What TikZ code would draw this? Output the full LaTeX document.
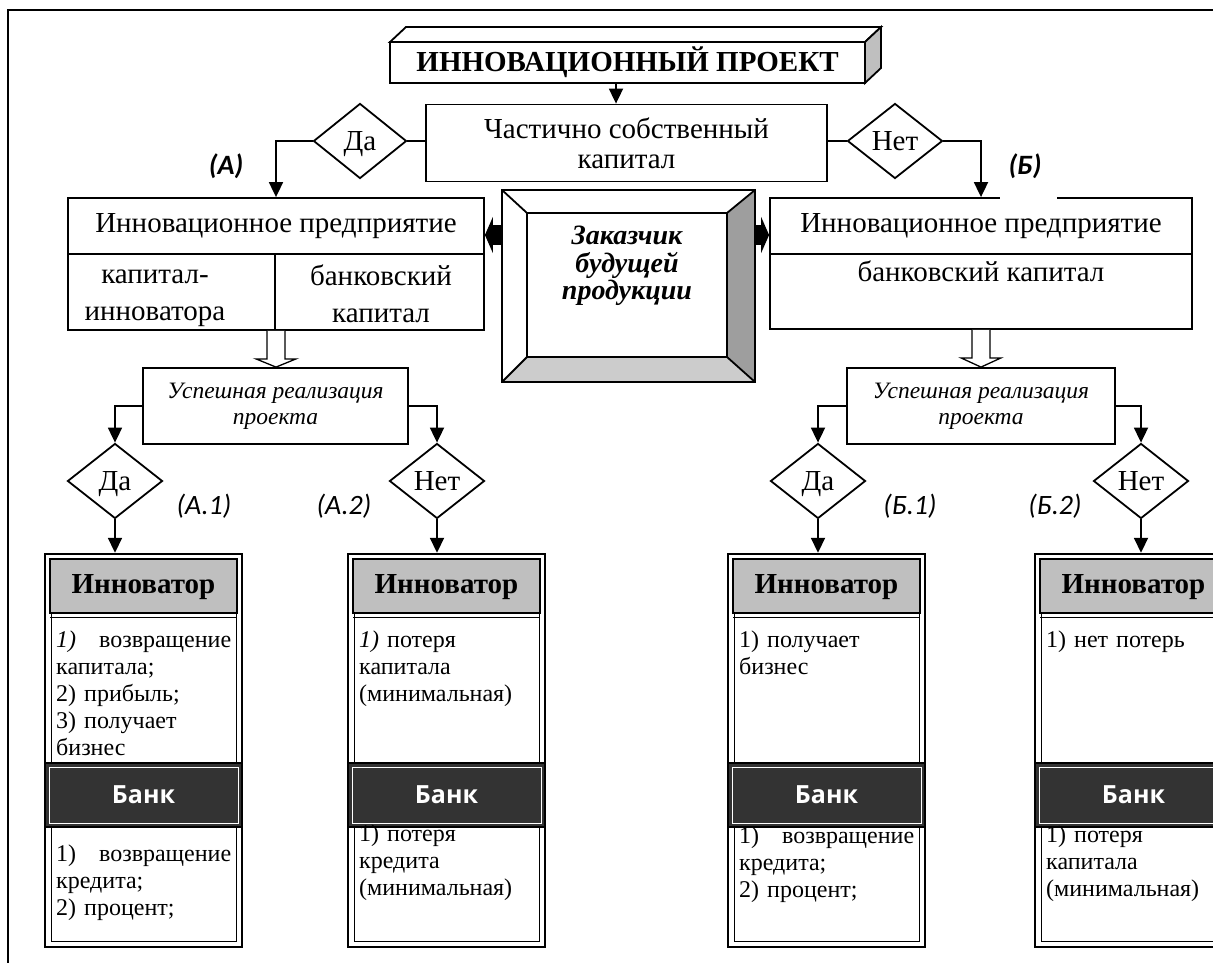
\documentclass[tikz,border=0pt]{standalone}
\usepackage{fontspec}
\setmainfont{Liberation Serif}
\newfontfamily\labf{Carlito}
\newfontfamily\bankf{Open Sans}
\usetikzlibrary{shapes.geometric,arrows.meta,calc}
\definecolor{hdrgray}{gray}{0.75}
\definecolor{bankdark}{gray}{0.2}
\definecolor{sidegray}{gray}{0.62}
\definecolor{botgray}{gray}{0.8}
\newcommand\invcol[6]{%
  \node[draw,line width=2.4pt,minimum width=197pt,minimum height=393pt,inner sep=0pt] (#1) at (#2+98.5,750.5) {};
  \draw[line width=0.9pt] (#2+6,560) rectangle (#2+191,941);
  \draw[line width=2.4pt,fill=hdrgray] (#2+5,559) rectangle (#2+192,613);
  \draw[line width=0.9pt] (#2+5,617) -- (#2+192,617);
  \node[font=\bfseries\fontsize{29}{31}\selectfont] (#1h) at (#2+98.5,587) {Инноватор};
  \draw[line width=2.4pt,fill=bankdark] (#2,763) rectangle (#2+197,827);
  \draw[line width=0.8pt,white] (#2+4,767) rectangle (#2+193,823);
  \node[font=\bankf\bfseries\fontsize{25}{27}\selectfont,text=white] (#1b) at (#2+98.5,795) {Банк};
  \node[body,anchor=north west] (#1t) at (#2+11,#4) {#3};
  \node[body,anchor=north west] (#1c) at (#2+11,#6) {#5};
}
\begin{document}
\begin{tikzpicture}[x=1pt,y=-1pt,
  ln/.style={line width=1.8pt},
  arr/.style={line width=1.8pt,-{Triangle[length=15pt,width=14pt]}},
  box/.style={draw,line width=1.8pt,inner sep=0pt},
  dia/.style={diamond,draw,line width=1.8pt,inner sep=0pt,minimum width=95pt,minimum height=75pt,text height=19pt,text depth=0pt,font=\fontsize{29}{30}\selectfont},
  lab/.style={font=\labf\itshape\fontsize{28}{30}\selectfont},
  labb/.style={font=\labf\bfseries\itshape\fontsize{28}{30}\selectfont},
  body/.style={inner sep=0pt,text width=175pt,align=left,font=\fontsize{24}{27}\selectfont},
  txt/.style={font=\fontsize{29}{37}\selectfont,align=center},
  fat/.style={line width=20pt,-{Triangle[length=8pt,width=36pt]}},
  hollow/.style={line width=1.3pt,fill=white}
]
\useasboundingbox (0,0) rectangle (1213,963);
\clip (0,0) rectangle (1213,963);

% outer frame
\draw[line width=2pt] (8,963) -- (8,10) -- (1213,10);

% title 3D box
\draw[ln,fill=white] (390,42) -- (406,27) -- (881,27) -- (865,42) -- cycle;
\draw[ln,fill=hdrgray] (865,42) -- (881,27) -- (881,68) -- (865,83) -- cycle;
\node[box,fill=white,minimum width=475pt,minimum height=41pt,font=\bfseries\fontsize{29}{31}\selectfont] (title) at (627.5,62.5) {ИННОВАЦИОННЫЙ ПРОЕКТ};

% partial own capital
\node[box,minimum width=401pt,minimum height=77pt,font=\fontsize{29}{30}\selectfont,align=center] (part) at (626.5,143) {Частично собственный\\капитал};
\coordinate (ax) at (616,0);
\draw[arr] (title.south -| ax) -- (part.north -| ax);

% top diamonds
\node[dia,minimum width=93pt] (daT) at (360,141) {Да};
\node[dia,minimum width=95pt] (netT) at (895,141) {Нет};

% enterprise boxes
\node[box,minimum width=416pt,minimum height=132pt] (leftIP) at (276,264) {};
\draw[ln] (68,254) -- (484,254);
\draw[ln] (275,254) -- (275,330);
\node[txt] (lipT) at (276,226) {Инновационное предприятие};
\node[txt] (lipA) at (155,298) {капитал-\\инноватора};
\node[txt] (lipB) at (381,294) {банковский\\капитал};

\node[box,minimum width=422pt,minimum height=131pt] (rightIP) at (981,263.5) {};
\draw[ln] (770,254) -- (1192,254);
\draw[white,line width=3pt] (1000,198) -- (1057,198);
\node[txt] (ripT) at (981,226) {Инновационное предприятие};
\node[txt] (ripB) at (981,271) {банковский капитал};

\draw[ln] (part.west |- daT.east) -- (daT.east);
\draw[arr] (daT.west) -| (leftIP.north);
\draw[ln] (part.east |- netT.west) -- (netT.west);
\draw[arr] (netT.east) -| (rightIP.north);

\node[labb] (labA) at (226,166) {(А)};
\node[labb] (labB) at (1025,166) {(Б)};

% customer box
\fill[botgray] (502,382) -- (527,357) -- (727,357) -- (755,382) -- cycle;
\fill[sidegray] (755,190) -- (727,213) -- (727,357) -- (755,382) -- cycle;
\draw[ln] (527,213) rectangle (727,357);
\draw[ln] (502,190) -- (527,213) (755,190) -- (727,213) (502,382) -- (527,357) (755,382) -- (727,357);
\node[box,minimum width=253pt,minimum height=192pt] (zak) at (628.5,286) {};
\node[font=\bfseries\itshape\fontsize{28}{27.5}\selectfont,align=center] (zakt) at (627,266) {Заказчик\\будущей\\продукции};
\coordinate (fy) at (0,235);
\draw[fat] (zak.west |- fy) -- (leftIP.east |- fy);
\draw[fat] (zak.east |- fy) -- (rightIP.west |- fy);

% success boxes
\node[box,minimum width=265pt,minimum height=76pt,font=\itshape\fontsize{23.5}{26}\selectfont,align=center] (uspL) at (275.5,406) {Успешная реализация\\проекта};
\node[box,minimum width=268pt,minimum height=76pt,font=\itshape\fontsize{23.5}{26}\selectfont,align=center] (uspR) at (981,406) {Успешная реализация\\проекта};

\draw[hollow] ($(leftIP.south)+(-9,0)$) -- ++(0,28) -- ++(-11,0) -- (leftIP.south |- uspL.north) -- ($(leftIP.south)+(20,28)$) -- ++(-11,0) -- ($(leftIP.south)+(9,0)$);
\draw[hollow] ($(rightIP.south)+(-9,0)$) -- ++(0,28) -- ++(-11,0) -- (rightIP.south |- uspR.north) -- ($(rightIP.south)+(20,28)$) -- ++(-11,0) -- ($(rightIP.south)+(9,0)$);

% bottom diamonds
\node[dia] (daA) at (115,481) {Да};
\node[dia] (netA) at (437,481) {Нет};
\node[dia] (daB) at (818,481) {Да};
\node[dia] (netB) at (1141,481) {Нет};
\draw[arr] (uspL.west) -| (daA.north);
\draw[arr] (uspL.east) -| (netA.north);
\draw[arr] (uspR.west) -| (daB.north);
\draw[arr] (uspR.east) -| (netB.north);

\node[lab] (lA1) at (204,506) {(А.1)};
\node[lab] (lA2) at (344,506) {(А.2)};
\node[lab] (lB1) at (910,506) {(Б.1)};
\node[lab] (lB2) at (1055,506) {(Б.2)};

% columns
\invcol{cA1}{45}{\textit{1)}\hfill возвращение\\капитала;\\2) прибыль;\\3) получает\\бизнес}{631}{1)\hfill возвращение\\кредита;\\2) процент;}{845}
\invcol{cA2}{348}{\textit{1)} потеря\\капитала\\(минимальная)}{631}{1) потеря\\кредита\\(минимальная)}{825}
\invcol{cB1}{728}{1) получает\\бизнес}{631}{1)\hfill возвращение\\кредита;\\2) процент;}{827}
\invcol{cB2}{1035}{1) нет потерь}{631}{1) потеря\\капитала\\(минимальная)}{826}

\draw[arr] (daA.south) -- (daA.south |- cA1.north);
\draw[arr] (netA.south) -- (netA.south |- cA2.north);
\draw[arr] (daB.south) -- (daB.south |- cB1.north);
\draw[arr] (netB.south) -- (netB.south |- cB2.north);
\end{tikzpicture}
\end{document}
